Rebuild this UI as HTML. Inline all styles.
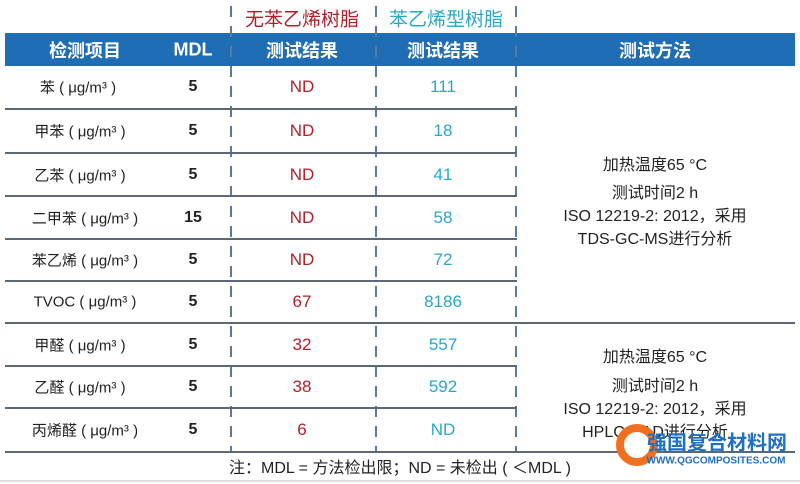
<!DOCTYPE html><html><head><meta charset="utf-8"><style>
body{margin:0;width:800px;height:484px;background:#fff;position:relative;overflow:hidden;font-family:"Liberation Sans","Noto Sans CJK SC",sans-serif}
.a{position:absolute;white-space:nowrap;text-align:center;transform:translate(-50%,-50%)}
.h{color:#fff;font-weight:bold;font-size:18px}
.r{color:#b0202a;font-size:17px}.b{color:#2aa6c8;font-size:17px}.k{color:#222;font-size:15px}
.m{font-weight:bold;font-size:16px}
.hl{position:absolute;height:2px;background:#5a6878}
.dl{position:absolute;width:2px;top:6px;height:446px;background:repeating-linear-gradient(to bottom,#5a7aa0 0 11px,transparent 11px 20px)}
</style></head><body>
<div style="position:absolute;left:5px;top:33px;width:790px;height:33px;background:#1f6db5"></div>
<div class="a r" style="left:302px;top:18px;font-size:19px">无苯乙烯树脂</div>
<div class="a b" style="left:446px;top:18px;font-size:19px">苯乙烯型树脂</div>
<div class="a h" style="left:85px;top:50px">检测项目</div>
<div class="a h" style="left:193px;top:50px">MDL</div>
<div class="a h" style="left:302px;top:50px">测试结果</div>
<div class="a h" style="left:443px;top:50px">测试结果</div>
<div class="a h" style="left:655px;top:50px">测试方法</div>
<div class="dl" style="left:230px"></div><div class="dl" style="left:375px"></div><div class="dl" style="left:515px"></div>
<div class="hl" style="left:5px;top:108px;width:512px"></div>
<div class="hl" style="left:5px;top:152px;width:512px"></div>
<div class="hl" style="left:5px;top:195px;width:512px"></div>
<div class="hl" style="left:5px;top:238px;width:512px"></div>
<div class="hl" style="left:5px;top:280px;width:512px"></div>
<div class="hl" style="left:5px;top:322px;width:790px"></div>
<div class="hl" style="left:5px;top:365px;width:512px"></div>
<div class="hl" style="left:5px;top:407px;width:512px"></div>
<div class="hl" style="left:5px;top:451px;width:790px"></div>
<div style="position:absolute;left:0;top:480px;width:800px;height:2px;background:#ddd"></div>
<div class="a k" style="left:78px;top:87px">苯 ( μg/m³ )</div><div class="a k m" style="left:193px;top:87px">5</div><div class="a r" style="left:302px;top:87px">ND</div><div class="a b" style="left:443px;top:87px">111</div>
<div class="a k" style="left:80px;top:131px">甲苯 ( μg/m³ )</div><div class="a k m" style="left:193px;top:131px">5</div><div class="a r" style="left:302px;top:131px">ND</div><div class="a b" style="left:443px;top:131px">18</div>
<div class="a k" style="left:80px;top:175px">乙苯 ( μg/m³ )</div><div class="a k m" style="left:193px;top:175px">5</div><div class="a r" style="left:302px;top:175px">ND</div><div class="a b" style="left:443px;top:175px">41</div>
<div class="a k" style="left:85px;top:218px">二甲苯 ( μg/m³ )</div><div class="a k m" style="left:193px;top:218px">15</div><div class="a r" style="left:302px;top:218px">ND</div><div class="a b" style="left:443px;top:218px">58</div>
<div class="a k" style="left:85px;top:260px">苯乙烯 ( μg/m³ )</div><div class="a k m" style="left:193px;top:260px">5</div><div class="a r" style="left:302px;top:260px">ND</div><div class="a b" style="left:443px;top:260px">72</div>
<div class="a k" style="left:85px;top:302px">TVOC ( μg/m³ )</div><div class="a k m" style="left:193px;top:302px">5</div><div class="a r" style="left:302px;top:302px">67</div><div class="a b" style="left:443px;top:302px">8186</div>
<div class="a k" style="left:80px;top:345px">甲醛 ( μg/m³ )</div><div class="a k m" style="left:193px;top:345px">5</div><div class="a r" style="left:302px;top:345px">32</div><div class="a b" style="left:443px;top:345px">557</div>
<div class="a k" style="left:80px;top:387px">乙醛 ( μg/m³ )</div><div class="a k m" style="left:193px;top:387px">5</div><div class="a r" style="left:302px;top:387px">38</div><div class="a b" style="left:443px;top:387px">592</div>
<div class="a k" style="left:85px;top:430px">丙烯醛 ( μg/m³ )</div><div class="a k m" style="left:193px;top:430px">5</div><div class="a r" style="left:302px;top:430px">6</div><div class="a b" style="left:443px;top:430px">ND</div>
<div class="a k" style="left:655px;top:163px;font-size:16px">加热温度65 °C</div>
<div class="a k" style="left:655px;top:191px;font-size:16px">测试时间2 h</div>
<div class="a k" style="left:655px;top:214px;font-size:16px">ISO 12219-2: 2012，采用</div>
<div class="a k" style="left:655px;top:237px;font-size:16px">TDS-GC-MS进行分析</div>
<div class="a k" style="left:655px;top:355px;font-size:16px">加热温度65 °C</div>
<div class="a k" style="left:655px;top:384px;font-size:16px">测试时间2 h</div>
<div class="a k" style="left:655px;top:407px;font-size:16px">ISO 12219-2: 2012，采用</div>
<div class="a k" style="left:655px;top:430px;font-size:16px">HPLC-DAD进行分析</div>
<div class="a k" style="left:400px;top:466px;font-size:16px">注：MDL = 方法检出限；ND = 未检出 ( ＜MDL )</div>
<div style="position:absolute;left:616px;top:424px;width:26px;height:26px;border:8px solid #f07020;border-radius:50%;background:#fff"></div>
<div class="a" style="left:717px;top:441px;color:#2070c0;font-weight:bold;font-size:20px">强国复合材料网</div>
<div class="a" style="left:716px;top:461px;color:#2070c0;font-weight:bold;font-size:10px">WWW.QGCOMPOSITES.COM</div>
</body></html>
